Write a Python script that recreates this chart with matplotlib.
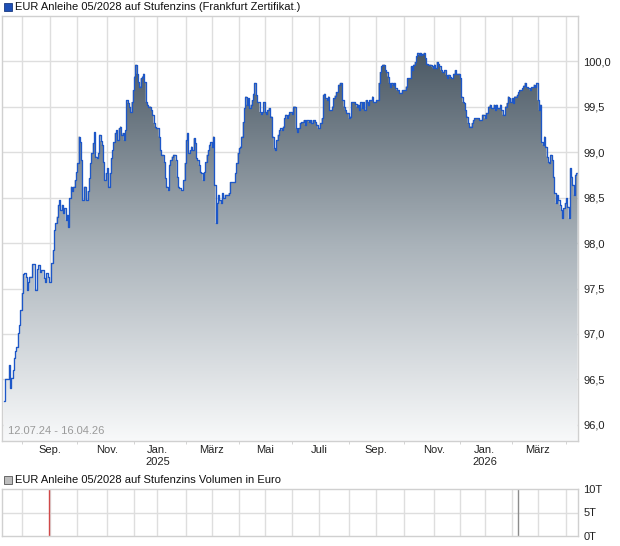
import numpy as np
import pandas as pd
import matplotlib
matplotlib.use("Agg")
import matplotlib.pyplot as plt
from matplotlib.colors import LinearSegmentedColormap

plt.rcParams['font.family'] = ['Liberation Sans', 'DejaVu Sans']

# trading sessions 12.07.24 - 16.04.26 (session number -> closing price)
sessions = [0, 1, 3, 4, 5, 6, 7, 8, 9, 10, 11, 12, 13, 14, 15, 16, 17, 18, 19, 20,
            22, 23, 24, 26, 27, 28, 29, 31, 32, 33, 34, 35, 37, 38, 39, 40, 41, 42, 43, 44,
            45, 46, 47, 48, 49, 50, 51, 52, 53, 54, 55, 56, 57, 58, 59, 60, 61, 62, 63, 64,
            65, 66, 67, 68, 69, 70, 71, 72, 73, 74, 75, 76, 77, 78, 79, 80, 81, 82, 83, 84,
            85, 86, 87, 88, 89, 90, 91, 92, 93, 94, 95, 96, 97, 98, 99, 100, 101, 102, 103, 104,
            105, 106, 107, 108, 109, 110, 111, 112, 114, 115, 116, 117, 118, 120, 121, 122, 123, 124, 125, 126,
            127, 128, 129, 130, 131, 132, 133, 134, 135, 136, 137, 138, 139, 140, 141, 142, 143, 144, 145, 146,
            147, 148, 149, 150, 151, 152, 153, 154, 155, 156, 157, 158, 159, 160, 161, 162, 163, 164, 165, 166,
            167, 168, 169, 170, 171, 172, 174, 175, 176, 178, 179, 180, 181, 182, 183, 184, 185, 186, 187, 188,
            189, 190, 191, 192, 193, 194, 195, 196, 197, 198, 199, 200, 201, 202, 203, 204, 205, 206, 207, 208,
            209, 210, 211, 212, 213, 214, 215, 216, 217, 218, 219, 220, 221, 223, 224, 225, 226, 227, 228, 229,
            230, 232, 233, 234, 236, 237, 238, 239, 241, 242, 243, 245, 246, 247, 248, 249, 250, 251, 252, 254,
            255, 256, 257, 259, 260, 261, 262, 263, 264, 265, 267, 268, 269, 270, 272, 273, 274, 275, 276, 277,
            278, 279, 280, 281, 282, 283, 285, 286, 288, 289, 290, 291, 292, 293, 294, 295, 296, 297, 298, 299,
            300, 301, 302, 303, 304, 306, 307, 308, 310, 311, 312, 313, 315, 316, 317, 318, 319, 320, 321, 322,
            323, 324, 325, 326, 327, 328, 330, 331, 332, 333, 334, 335, 336, 337, 338, 339, 341, 342, 343, 344,
            345, 346, 348, 349, 350, 351, 353, 354, 355, 356, 357, 358, 359, 360, 362, 363, 364, 367, 368, 370,
            371, 372, 373, 375, 376, 377, 379, 380, 381, 382, 384, 385, 386, 388, 389, 390, 391, 392, 393, 394,
            395, 396, 397, 398, 399, 401, 402, 403, 404, 406, 407, 408, 410, 411, 412, 413, 414, 415, 416, 417,
            418, 419, 420, 421, 422, 423, 424, 425, 426, 427, 428, 429, 430, 431, 432, 433, 434, 435, 436, 437,
            438, 439, 440, 441, 442, 443, 444]
close = [96.26, 96.51, 96.51, 96.66, 96.41, 96.52, 96.60, 96.74, 96.81, 96.86, 97.01, 97.10, 97.26, 97.45, 97.66, 97.67, 97.63, 97.48, 97.57, 97.63,
         97.77, 97.77, 97.48, 97.71, 97.76, 97.68, 97.70, 97.62, 97.57, 97.67, 97.63, 97.57, 97.78, 97.92, 98.14, 98.22, 98.29, 98.42, 98.47, 98.36,
         98.42, 98.33, 98.38, 98.25, 98.31, 98.18, 98.49, 98.62, 98.57, 98.62, 98.69, 98.78, 98.88, 99.17, 99.11, 98.91, 98.47, 98.62, 98.62, 98.47,
         98.57, 98.71, 98.88, 98.99, 99.10, 99.22, 98.95, 98.93, 98.99, 99.19, 99.12, 99.08, 98.89, 98.69, 98.77, 98.82, 98.62, 98.77, 98.93, 99.02,
         99.11, 99.21, 99.24, 99.13, 99.26, 99.28, 99.19, 99.21, 99.13, 99.24, 99.57, 99.54, 99.50, 99.44, 99.55, 99.68, 99.83, 99.96, 99.86, 99.77,
         99.72, 99.81, 99.83, 99.86, 99.77, 99.55, 99.52, 99.50, 99.46, 99.41, 99.32, 99.28, 99.26, 99.17, 99.02, 98.97, 98.97, 98.89, 98.71, 98.62,
         98.58, 98.86, 98.91, 98.95, 98.97, 98.97, 98.91, 98.73, 98.62, 98.60, 98.58, 98.58, 98.69, 98.88, 99.13, 99.21, 98.99, 99.02, 99.06, 99.02,
         99.15, 99.10, 98.93, 98.91, 98.86, 98.78, 98.77, 98.69, 98.78, 98.89, 98.97, 99.02, 99.08, 99.11, 99.06, 99.17, 98.64, 98.22, 98.44, 98.53,
         98.47, 98.44, 98.55, 98.49, 98.53, 98.53, 98.55, 98.67, 98.67, 98.67, 98.77, 98.88, 98.99, 99.04, 99.06, 99.17, 99.33, 99.48, 99.61, 99.52,
         99.59, 99.48, 99.52, 99.57, 99.64, 99.76, 99.63, 99.55, 99.55, 99.44, 99.42, 99.44, 99.55, 99.44, 99.42, 99.46, 99.48, 99.39, 99.39, 99.17,
         99.04, 99.02, 99.13, 99.19, 99.24, 99.26, 99.24, 99.28, 99.37, 99.41, 99.37, 99.41, 99.44, 99.42, 99.50, 99.50, 99.26, 99.22, 99.26, 99.32,
         99.33, 99.35, 99.30, 99.35, 99.33, 99.35, 99.32, 99.35, 99.33, 99.30, 99.26, 99.32, 99.37, 99.63, 99.64, 99.59, 99.57, 99.61, 99.46, 99.50,
         99.59, 99.62, 99.66, 99.74, 99.76, 99.76, 99.57, 99.50, 99.46, 99.43, 99.37, 99.39, 99.55, 99.55, 99.53, 99.50, 99.52, 99.46, 99.55, 99.48,
         99.55, 99.46, 99.57, 99.55, 99.52, 99.57, 99.61, 99.55, 99.57, 99.57, 99.76, 99.88, 99.94, 99.96, 99.96, 99.90, 99.88, 99.83, 99.76, 99.72,
         99.76, 99.74, 99.76, 99.70, 99.68, 99.65, 99.65, 99.68, 99.68, 99.72, 99.81, 99.81, 99.94, 99.90, 99.96, 99.99, 100.05, 100.09, 100.07, 100.09,
         100.07, 100.08, 100.09, 100.03, 99.97, 99.96, 99.96, 99.94, 99.92, 99.96, 99.92, 99.99, 99.97, 99.94, 99.90, 99.88, 99.90, 99.85, 99.81, 99.85,
         99.83, 99.81, 99.86, 99.90, 99.86, 99.86, 99.81, 99.61, 99.55, 99.54, 99.46, 99.39, 99.32, 99.28, 99.32, 99.35, 99.37, 99.37, 99.35, 99.41,
         99.41, 99.37, 99.43, 99.50, 99.52, 99.48, 99.52, 99.46, 99.52, 99.48, 99.52, 99.46, 99.41, 99.50, 99.54, 99.61, 99.59, 99.55, 99.59, 99.54,
         99.61, 99.61, 99.63, 99.66, 99.68, 99.70, 99.73, 99.76, 99.71, 99.70, 99.68, 99.71, 99.74, 99.72, 99.76, 99.57, 99.46, 99.52, 99.11, 99.08,
         99.17, 99.06, 98.95, 98.89, 98.88, 98.97, 98.91, 98.73, 98.55, 98.44, 98.53, 98.47, 98.42, 98.36, 98.27, 98.38, 98.44, 98.49, 98.40, 98.27,
         98.82, 98.73, 98.64, 98.53, 98.75, 98.77, 98.77]

# volume (euro), only two trades in the period
vol_sessions = [35, 398]
vol_values = [15000, 12000]
vol_colors = ['#d04848', '#8c8c8c']

holidays = ['2024-12-24', '2024-12-25', '2024-12-26', '2024-12-31', '2025-01-01',
            '2025-04-18', '2025-04-21', '2025-05-01', '2025-12-24', '2025-12-25',
            '2025-12-26', '2025-12-31', '2026-01-01', '2026-04-03', '2026-04-06']
month_names = {1: 'Jan.', 3: 'März', 5: 'Mai', 7: 'Juli', 9: 'Sep.', 11: 'Nov.'}

days = pd.bdate_range('2024-07-12', '2026-04-16')
days = days[~days.isin(pd.to_datetime(holidays))]
idx = pd.Series(np.arange(len(days)), index=days)
month_first = idx.groupby(days.to_period('M')).first().iloc[1:]

tick_pos, tick_lab, minor_pos = [], [], []
for per, pos in month_first.items():
    minor_pos.append(pos)
    if per.month in month_names:
        lab = month_names[per.month]
        if per.month == 1:
            lab += '\n' + str(per.year)
        tick_pos.append(pos)
        tick_lab.append(lab)

grid_c = '#dedede'
x0, x1 = -1.2, len(days) - 0.7

fig = plt.figure(figsize=(6.2, 5.46), dpi=100)

# price panel
ax = fig.add_axes([2 / 620, 1 - 441 / 546, 576 / 620, 425 / 546])
ax.set_xlim(x0, x1)
ax.set_ylim(95.824, 100.495)
for p in minor_pos:
    ax.axvline(p, color=grid_c, lw=1, zorder=0)
for v in np.arange(96.0, 100.01, 0.5):
    ax.axhline(v, color=grid_c, lw=1, zorder=0)

poly = ax.fill_between(sessions, close, 95.824, step='post', facecolor='none', edgecolor='none')
cmap = LinearSegmentedColormap.from_list('g', ['#f8f9fa', '#aab3ba', '#4a5864'])
grad = np.linspace(0, 1, 256).reshape(-1, 1)
im = ax.imshow(grad, extent=[x0, x1, 95.824, 100.1], origin='lower', aspect='auto',
               cmap=cmap, zorder=1)
im.set_clip_path(poly.get_paths()[0], transform=ax.transData)
ax.step(sessions, close, where='post', color='#1d57c8', lw=0.95, zorder=2)

ax.yaxis.tick_right()
ax.set_yticks(np.arange(96.0, 100.01, 0.5))
ax.set_yticklabels([f'{v:.1f}'.replace('.', ',') for v in np.arange(96.0, 100.01, 0.5)])
ax.tick_params(axis='y', length=0, pad=4, labelsize=8, labelcolor='#222222')
ax.set_xticks(tick_pos)
ax.set_xticklabels(tick_lab)
ax.set_xticks(minor_pos, minor=True)
ax.tick_params(axis='x', which='major', length=0, pad=3, labelsize=8, labelcolor='#222222')
ax.tick_params(axis='x', which='minor', length=2, color='#cccccc')
for s in ax.spines.values():
    s.set_color('#d0d0d0')
    s.set_linewidth(1)
ax.text(0.01, 0.012, '12.07.24 - 16.04.26', transform=ax.transAxes, fontsize=8,
        color='#9a9a9a', va='bottom', ha='left')

# titles
fig.patches.append(plt.Rectangle((4 / 620, 1 - 11 / 546), 8 / 620, 8 / 546, transform=fig.transFigure,
                                 facecolor='#1d4fb5', edgecolor='#1a3a80', lw=0.6))
fig.text(15 / 620, 1 - 7 / 546, 'EUR Anleihe 05/2028 auf Stufenzins (Frankfurt Zertifikat.)',
         fontsize=8, va='center', ha='left', color='#111111')
fig.patches.append(plt.Rectangle((4 / 620, 1 - 484 / 546), 8 / 620, 8 / 546, transform=fig.transFigure,
                                 facecolor='#bdbdbd', edgecolor='#555555', lw=0.6))
fig.text(15 / 620, 1 - 480 / 546, 'EUR Anleihe 05/2028 auf Stufenzins Volumen in Euro',
         fontsize=8, va='center', ha='left', color='#111111')

# volume panel
av = fig.add_axes([2 / 620, 1 - 536 / 546, 576 / 620, 47 / 546])
av.set_xlim(x0, x1)
av.set_ylim(0, 10000)
for p in minor_pos:
    av.axvline(p, color=grid_c, lw=1, zorder=0)
av.axhline(5000, color=grid_c, lw=1, zorder=0)
av.vlines(vol_sessions, 0, vol_values, colors=vol_colors, lw=1, zorder=2)
av.yaxis.tick_right()
av.set_yticks([0, 5000, 10000])
av.set_yticklabels(['0T', '5T', '10T'])
av.tick_params(axis='y', length=0, pad=4, labelsize=8, labelcolor='#222222')
av.set_xticks([])
for s in av.spines.values():
    s.set_color('#d0d0d0')
    s.set_linewidth(1)

fig.savefig('out.png', dpi=100)
